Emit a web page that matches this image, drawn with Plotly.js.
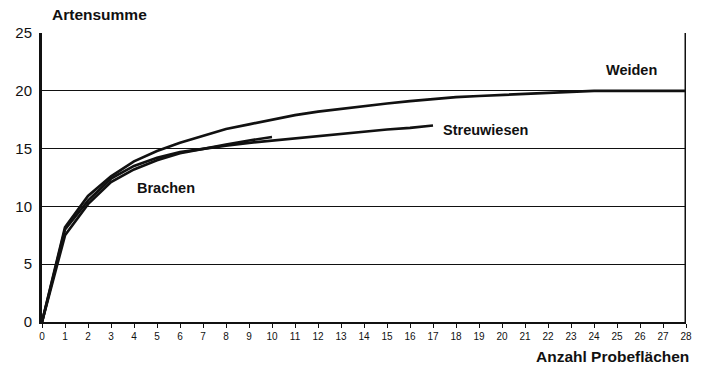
<!DOCTYPE html>
<html><head><meta charset="utf-8">
<script src="https://cdn.plot.ly/plotly-3.0.1.min.js"></script>
<style>html,body{margin:0;padding:0;background:#fff;}#chart{width:705px;height:367px;}</style>
</head><body><div id="chart"></div>
<script>
const xWeiden = [0,1,2,3,4,5,6,7,8,9,10,11,12,13,14,15,16,17,18,19,20,21,22,23,24,25,26,27,28];
const weiden = [0,8.2,10.9,12.6,13.9,14.8,15.5,16.1,16.7,17.1,17.5,17.9,18.2,18.45,18.7,18.9,19.1,19.3,19.45,19.55,19.65,19.75,19.85,19.95,20,20,20,20,20];
const xStreu = [0,1,2,3,4,5,6,7,8,9,10,11,12,13,14,15,16,17];
const streuwiesen = [0,8.0,10.5,12.4,13.5,14.2,14.7,15.0,15.25,15.5,15.7,15.9,16.1,16.3,16.5,16.65,16.8,17.0];
const xBrachen = [0,1,2,3,4,5,6,7,8,9,10];
const brachen = [0,7.5,10.2,12.1,13.2,14.0,14.6,15.0,15.35,15.7,16.0];
const xTicks = [0,1,2,3,4,5,6,7,8,9,10,11,12,13,14,15,16,17,18,19,20,21,22,23,24,25,26,27,28];
const yTicks = [0,5,10,15,20,25];

const lineStyle = {color:'#111', width:2.7, shape:'linear'};
const traces = [
  {x:xWeiden, y:weiden, name:'Weiden', mode:'lines', line:lineStyle, cliponaxis:false},
  {x:xStreu, y:streuwiesen, name:'Streuwiesen', mode:'lines', line:lineStyle, cliponaxis:false},
  {x:xBrachen, y:brachen, name:'Brachen', mode:'lines', line:lineStyle, cliponaxis:false}
];
const layout = {
  width:705, height:367,
  margin:{l:42, r:19, t:33, b:45},
  paper_bgcolor:'#fff', plot_bgcolor:'#fff',
  showlegend:false,
  font:{family:'Liberation Sans, Arial, sans-serif', color:'#111'},
  xaxis:{range:[0,28], tickvals:xTicks, ticktext:xTicks.map(String), showgrid:false, zeroline:false,
    showline:true, linecolor:'#111', linewidth:1.5, ticks:'outside', ticklen:4, tickcolor:'#111', tickwidth:1,
    tickfont:{size:10, family:'Liberation Sans Narrow, Liberation Sans, Arial', color:'#111'}, fixedrange:true},
  yaxis:{range:[0,25], tickvals:yTicks, ticktext:yTicks.map(String), showgrid:true, gridcolor:'#111', gridwidth:1.2,
    zeroline:false, showline:true, linecolor:'#111', linewidth:3, ticks:'', ticklabelstandoff:4,
    tickfont:{size:15, color:'#111'}, fixedrange:true},
  shapes:[
    {type:'line', xref:'x', yref:'y', x0:28, x1:28, y0:0, y1:25, line:{color:'#111', width:3}}
  ],
  annotations:[
    {text:'<b>Artensumme</b>', xref:'paper', yref:'paper', x:0.012, y:1, yshift:19, xanchor:'left', yanchor:'middle', showarrow:false, font:{size:15.5}},
    {text:'<b>Anzahl Probeflächen</b>', xref:'paper', yref:'paper', x:1, xshift:5, y:0, yshift:-34, xanchor:'right', yanchor:'middle', showarrow:false, font:{size:15.5}},
    {text:'<b>Weiden</b>', xref:'x', yref:'y', x:24.45, y:21.8, xanchor:'left', yanchor:'middle', showarrow:false, font:{size:14.5}},
    {text:'<b>Streuwiesen</b>', xref:'x', yref:'y', x:17.35, y:16.6, xanchor:'left', yanchor:'middle', showarrow:false, font:{size:14.5}},
    {text:'<b>Brachen</b>', xref:'x', yref:'y', x:4.05, y:11.6, xanchor:'left', yanchor:'middle', showarrow:false, font:{size:14.5}}
  ]
};
Plotly.newPlot('chart', traces, layout, {displayModeBar:false, staticPlot:true});
</script></body></html>
